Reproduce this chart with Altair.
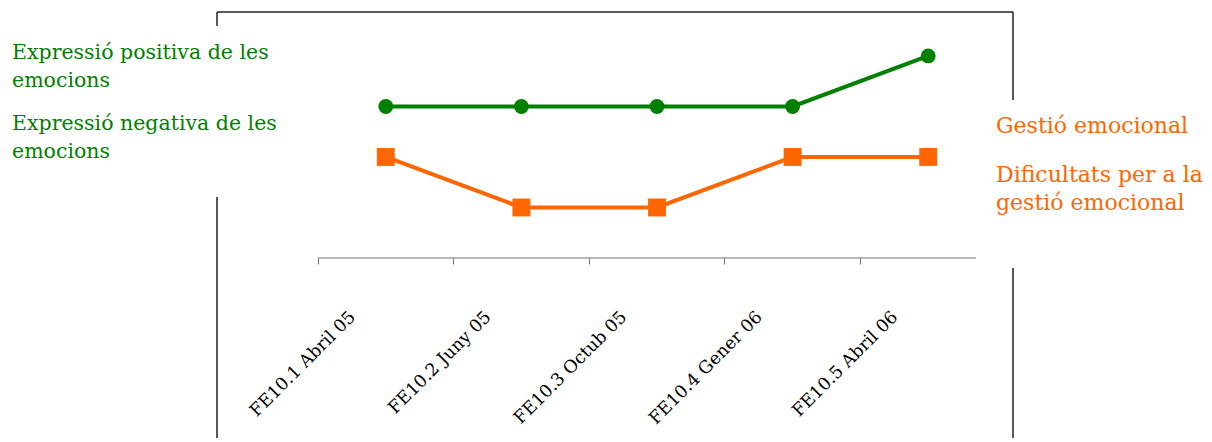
import altair as alt
import pandas as pd

categories = ["FE10.1 Abril 05", "FE10.2 Juny 05", "FE10.3 Octub 05", "FE10.4 Gener 06", "FE10.5 Abril 06"]
expressio = [4, 4, 4, 4, 5]
gestio = [3, 2, 2, 3, 3]
left_labels = ["Expressió positiva de les\nemocions", "Expressió negativa de les\nemocions"]
right_labels = ["Gestió emocional", "Dificultats per a la\ngestió emocional"]

GREEN = "#008000"
ORANGE = "#FF6600"
FONT = "DejaVu Serif"

df = pd.DataFrame({"cat": categories, "expressio": expressio, "gestio": gestio})
one = pd.DataFrame({"a": [0]})

x = alt.X(
    "cat:N", sort=categories,
    scale=alt.Scale(type="band", paddingInner=0, paddingOuter=0),
    axis=alt.Axis(title=None, domain=False, bandPosition=0, tickColor="#707070", tickSize=6,
                  labelAngle=315, labelAlign="right", labelBaseline="middle", labelOffset=-33,
                  labelPadding=50, labelFont=FONT, labelFontSize=17.5, labelColor="#000000"),
)
ysc = alt.Scale(domain=[1, 5.87])

base = alt.Chart(df)
g_line = base.mark_line(color=GREEN, strokeWidth=4).encode(x=x, y=alt.Y("expressio:Q", scale=ysc, axis=None))
g_pt = base.mark_point(filled=True, shape="circle", size=220, color=GREEN, opacity=1).encode(
    x=x, y=alt.Y("expressio:Q", scale=ysc, axis=None))
o_line = base.mark_line(color=ORANGE, strokeWidth=4).encode(x=x, y=alt.Y("gestio:Q", scale=ysc, axis=None))
o_pt = base.mark_point(filled=True, shape="square", size=320, color=ORANGE, opacity=1).encode(
    x=x, y=alt.Y("gestio:Q", scale=ysc, axis=None))

def rule(x1, x2, y1, y2, color="#222222", w=1.5):
    return alt.Chart(one).mark_rule(color=color, strokeWidth=w).encode(
        x=alt.value(x1), x2=alt.value(x2), y=alt.value(y1), y2=alt.value(y2))

frame = [
    rule(-101, 695, 0, 0),
    rule(-101, -101, 0, 14),
    rule(-101, -101, 185, 430),
    rule(695, 695, 0, 88),
    rule(695, 695, 256, 430),
    rule(0, 658, 246, 246, "#707070", 1),
]

def label(txt, xx, yy, color, size):
    return alt.Chart(one).mark_text(
        align="left", baseline="alphabetic", font=FONT, fontSize=size, lineHeight=28,
        lineBreak="\n", color=color).encode(x=alt.value(xx), y=alt.value(yy), text=alt.value(txt))

texts = [
    label(left_labels[0], -306, 47, GREEN, 20.5),
    label(left_labels[1], -306, 118, GREEN, 20.5),
    label(right_labels[0], 678, 121, ORANGE, 22),
    label(right_labels[1], 678, 170, ORANGE, 22),
]

chart = alt.layer(*frame, g_line, o_line, g_pt, o_pt, *texts).properties(
    width=678, height=246,
    autosize=alt.AutoSizeParams(type="none"),
    padding={"left": 310, "top": 4, "right": 208, "bottom": 180},
).configure_view(stroke=None)

chart.save("out.html", embed_options={"renderer": "svg", "actions": False})
